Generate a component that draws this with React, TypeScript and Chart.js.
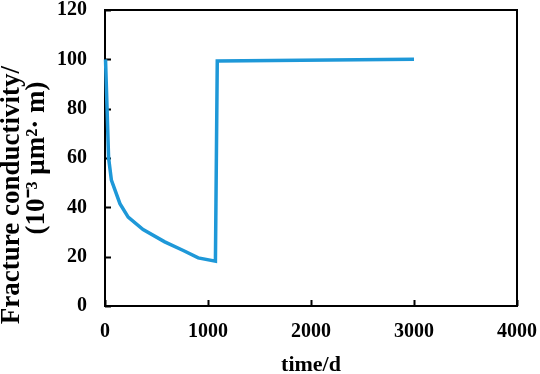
import React, { useEffect, useRef } from "react";
import { Chart, registerables } from "chart.js";

Chart.register(...registerables);

const timeDays = [5, 35, 62, 145, 225, 370, 580, 760, 905, 1072, 1090, 3000];
const conductivity = [100, 60, 51, 41.5, 36, 31, 26, 22.5, 19.5, 18.2, 99.3, 100];
const xTicks = [0, 1000, 2000, 3000, 4000];
const yTicks = [0, 20, 40, 60, 80, 100, 120];
const yTitle = ["Fracture conductivity/           ", "(10\u207B\u00B3 \u03BCm\u00B2\u00B7 m)"];
const xTitle = "time/d";

const FONT = "'Liberation Serif', 'Times New Roman', serif";

const framePlugin = {
  id: "frame",
  beforeDatasetsDraw(chart: any) {
    const { ctx, chartArea: a, scales } = chart;
    const x = scales.x;
    const y = scales.y;
    ctx.save();
    ctx.strokeStyle = "#000";
    ctx.lineWidth = 2;
    ctx.strokeRect(a.left, a.top, a.right - a.left, a.bottom - a.top);
    ctx.beginPath();
    x.ticks.forEach((t: any) => {
      const px = Math.round(x.getPixelForValue(t.value)) + 0.5;
      ctx.moveTo(px, a.bottom);
      ctx.lineTo(px, a.bottom - 6);
    });
    y.ticks.forEach((t: any) => {
      const py = Math.round(y.getPixelForValue(t.value)) + 0.5;
      ctx.moveTo(a.left, py);
      ctx.lineTo(a.left + 6, py);
    });
    ctx.stroke();
    ctx.restore();
  },
};

export default function App() {
  const ref = useRef<HTMLCanvasElement>(null);
  useEffect(() => {
    if (!ref.current) return;
    const chart = new Chart(ref.current, {
      type: "scatter",
      data: {
        datasets: [
          {
            data: timeDays.map((t, i) => ({ x: t, y: conductivity[i] })),
            showLine: true,
            borderColor: "rgb(30,152,216)",
            borderWidth: 3.5,
            pointRadius: 0,
            fill: false,
            tension: 0,
            clip: false as any,
          },
        ],
      },
      options: {
        responsive: false,
        animation: false,
        layout: { padding: { top: 10, right: 23, left: 0, bottom: 0 } },
        plugins: { legend: { display: false }, tooltip: { enabled: false } },
        scales: {
          x: {
            type: "linear",
            min: xTicks[0],
            max: xTicks[xTicks.length - 1],
            afterBuildTicks: (s: any) => {
              s.ticks = xTicks.map((v) => ({ value: v }));
            },
            afterFit: (s: any) => {
              s.height = 68;
              s.paddingLeft = 0;
              s.paddingRight = 0;
            },
            grid: { display: false, drawTicks: false },
            border: { display: false },
            ticks: {
              padding: 14,
              color: "#000",
              font: { family: FONT, size: 20, weight: "bold" },
              maxRotation: 0,
              callback: (v: any) => String(v),
            },
            title: {
              display: true,
              text: xTitle,
              color: "#000",
              font: { family: FONT, size: 22, weight: "bold", lineHeight: 0.8 },
              padding: { top: 4, bottom: 0 },
            },
          },
          y: {
            type: "linear",
            min: yTicks[0],
            max: yTicks[yTicks.length - 1],
            afterBuildTicks: (s: any) => {
              s.ticks = yTicks.map((v) => ({ value: v }));
            },
            afterFit: (s: any) => {
              s.width = 105;
              s.paddingTop = 0;
              s.paddingBottom = 0;
            },
            grid: { display: false, drawTicks: false },
            border: { display: false },
            ticks: {
              padding: 18,
              color: "#000",
              font: { family: FONT, size: 20, weight: "bold" },
              callback: (v: any) => String(v),
            },
            title: {
              display: true,
              text: yTitle,
              color: "#000",
              font: { family: FONT, size: 27, weight: "bold", lineHeight: 0.92 },
              padding: { top: 0, bottom: 0 },
            },
          },
        },
      },
      plugins: [framePlugin],
    });
    return () => chart.destroy();
  }, []);
  return (
    <div style={{ position: "fixed", left: 0, top: 0, width: 540, height: 374, background: "#fff" }}>
      <canvas ref={ref} width={540} height={374} />
    </div>
  );
}
